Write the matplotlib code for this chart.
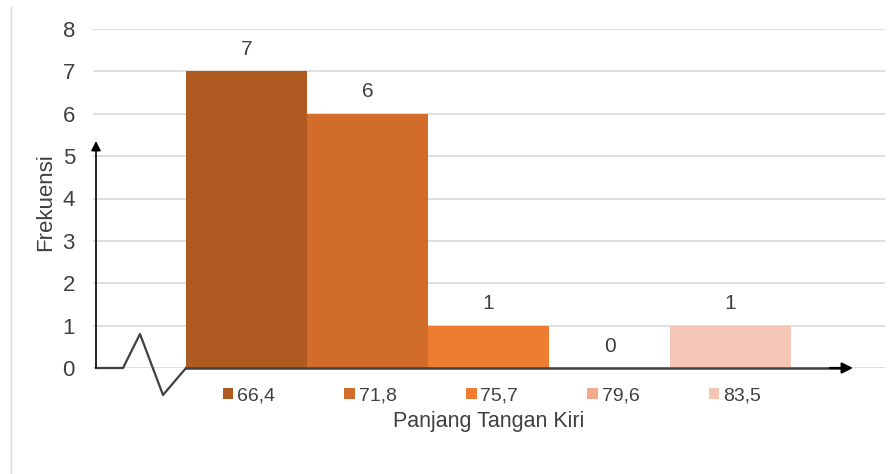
import matplotlib
matplotlib.use("Agg")
import matplotlib.pyplot as plt
from matplotlib.patches import Patch
from matplotlib.lines import Line2D
from matplotlib import font_manager

categories = ["66,4", "71,8", "75,7", "79,6", "83,5"]
values = [7, 6, 1, 0, 1]
colors = ["#AE5A21", "#D26C2B", "#ED7D31", "#F3A98E", "#F5C6B6"]
yticks = [0, 1, 2, 3, 4, 5, 6, 7, 8]

names = {f.name for f in font_manager.fontManager.ttflist}
fam = ["Liberation Sans Narrow", "Liberation Sans", "DejaVu Sans"]
fam = [f for f in fam if f in names] or ["DejaVu Sans"]
plt.rcParams["font.family"] = fam

W, H = 893, 474
fig = plt.figure(figsize=(W / 100, H / 100), dpi=100)
L, R, B, T = 93, 885, 368, 29
ax = fig.add_axes([L / W, (H - B) / H, (R - L) / W, (B - T) / H])

x = list(range(len(categories)))
ax.bar(x, values, width=1.0, color=colors, zorder=2)

unit = 121.0
c0 = 246.5
ax.set_xlim((L - c0) / unit, (R - c0) / unit)
ax.set_ylim(0, 8)
ax.set_yticks(yticks)
ax.set_yticklabels([str(t) for t in yticks], fontsize=16, color="#404040")
ax.tick_params(axis="y", length=0, pad=13)
ax.set_xticks([])
ax.grid(axis="y", color="#D9D9D9", linewidth=1.2, zorder=0)
for s in ax.spines.values():
    s.set_visible(False)

for xi, v in zip(x, values):
    ax.annotate(str(v), (xi, v), xytext=(0, 9), textcoords="offset points",
                ha="center", va="bottom", fontsize=15, color="#404040")

def px2x(p):
    return (p - c0) / unit

def py2y(p):
    return (B - p) / ((B - T) / 8.0)

zx = [px2x(p) for p in [96, 123, 140, 163, 186]]
zy = [py2y(p) for p in [368, 368, 334, 395, 368]]
ax.plot(zx, zy, color="#404040", lw=1.6, clip_on=False, zorder=3)
ax.plot([px2x(186), px2x(845)], [0, 0], color="#404040", lw=1.8, clip_on=False, zorder=3)
ax.annotate("", xy=(px2x(853), 0), xytext=(px2x(830), 0),
            arrowprops=dict(arrowstyle="-|>", color="black", lw=1.6,
                            mutation_scale=16, shrinkA=0, shrinkB=0),
            annotation_clip=False, zorder=4)
ax.annotate("", xy=(px2x(96), py2y(141)), xytext=(px2x(96), 0),
            arrowprops=dict(arrowstyle="-|>", color="black", lw=1.2,
                            mutation_scale=14, shrinkA=0, shrinkB=0),
            annotation_clip=False, zorder=4)

ax.set_ylabel("Frekuensi", fontsize=16, color="#404040")
ax.yaxis.set_label_coords((56 - L) / (R - L), (B - 202) / (B - T))

handles = [Patch(facecolor=c, edgecolor="none") for c in colors]
fig.legend(handles, categories, loc="center", bbox_to_anchor=(492 / W, (H - 396) / H),
           ncol=5, frameon=False, fontsize=14, handlelength=0.55, handleheight=0.55,
           handletextpad=0.2, columnspacing=3.55, labelcolor="#404040")
fig.text(489 / W, (H - 422) / H, "Panjang Tangan Kiri", ha="center", va="center",
         fontsize=15.5, color="#404040")

fig.add_artist(Line2D([11 / W, 11 / W], [0, (H - 7) / H], transform=fig.transFigure,
                      color="#D9D9D9", lw=1))

fig.savefig("out.png", dpi=100, facecolor="white")
